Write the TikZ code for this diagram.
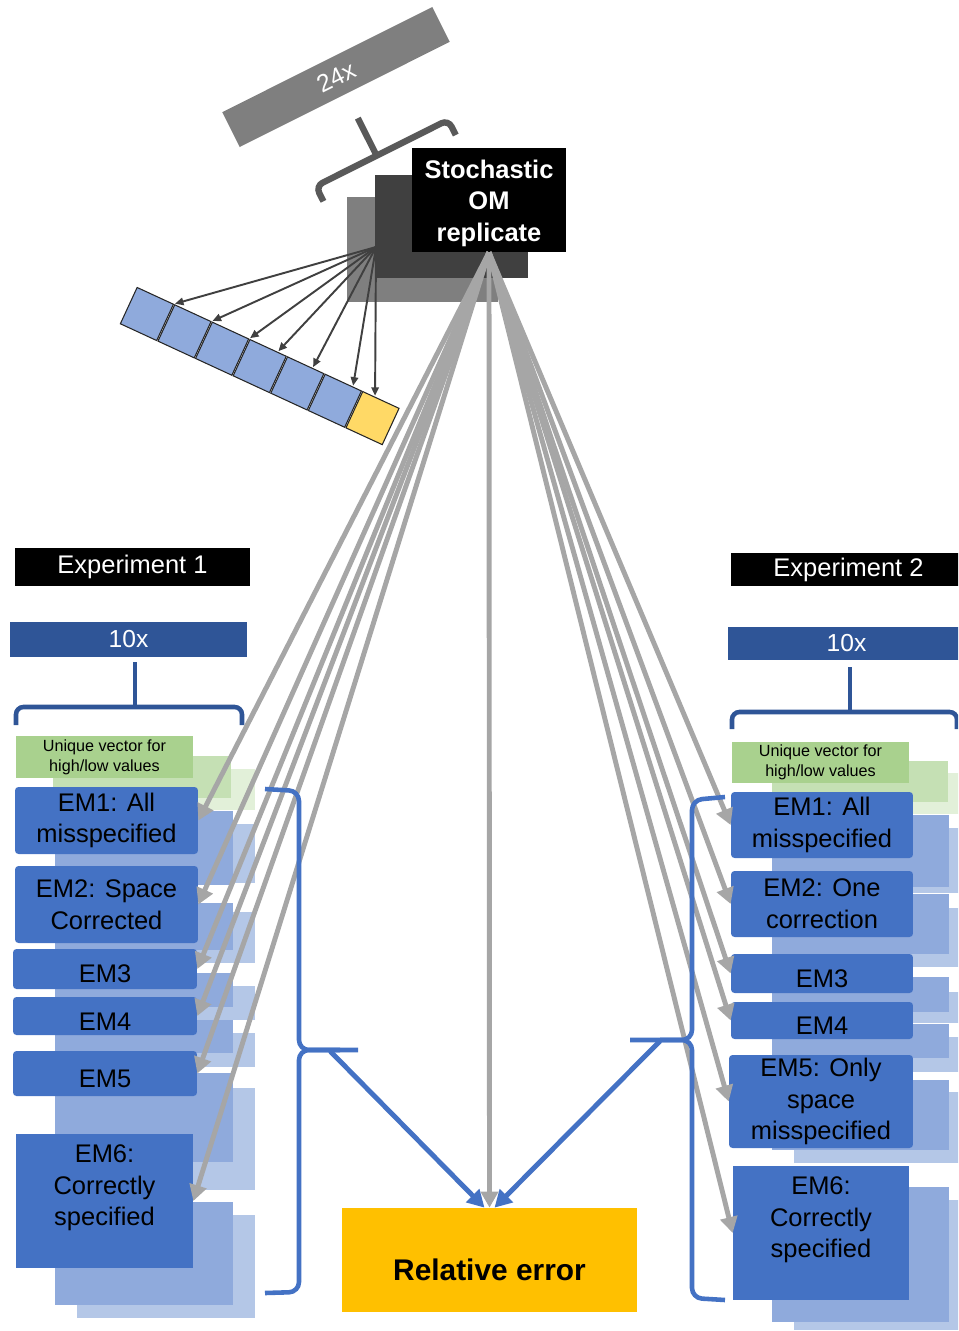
\documentclass[tikz,border=0pt]{standalone}
\usepackage{fontspec}
\setmainfont{Liberation Sans}
\usetikzlibrary{arrows.meta,positioning}
\definecolor{emblue}{HTML}{4472C4}
\definecolor{emmid}{HTML}{8FAADC}
\definecolor{emback}{HTML}{B4C7E7}
\definecolor{grfront}{HTML}{A9D18E}
\definecolor{grmid}{HTML}{C5E0B4}
\definecolor{grback}{HTML}{E2F0D9}
\definecolor{tenblue}{HTML}{2F5597}
\definecolor{fangray}{HTML}{A6A6A6}
\definecolor{errgold}{HTML}{FFC000}
\definecolor{sqyellow}{HTML}{FFD966}
\definecolor{ommid}{HTML}{7F7F7F}
\definecolor{omdark}{HTML}{404040}
\definecolor{bracegray}{HTML}{595959}
\tikzset{
  front/.style={rectangle,fill=emblue,rounded corners=0.7mm,inner sep=0pt,align=center,
    execute at begin node={\rule{0pt}{16pt}},font={\fontsize{14.5}{18}\selectfont}},
  sqfront/.style={front,rounded corners=0pt},
  emtext/.style={inner sep=0pt,align=center,font={\fontsize{14.5}{17.8}\selectfont}},
  vecbox/.style={rectangle,fill=grfront,inner sep=0pt,align=center,minimum width=35.4mm,font={\fontsize{9.2}{11.3}\selectfont}},
  labbox/.style={rectangle,fill=black,text=white,inner sep=0pt,minimum width=47mm,font={\fontsize{14.5}{17}\selectfont}},
  tenbox/.style={rectangle,fill=tenblue,text=white,inner sep=0pt,minimum width=47.4mm,font={\fontsize{14}{17}\selectfont}},
  sq/.style={rectangle,draw=black!85,line width=0.6pt,minimum size=8mm,inner sep=0pt,rotate=-24.8},
  fan/.style={-{Triangle[length=3.2mm,width=3.4mm]},line width=2.8pt,fangray},
  arr/.style={-{Triangle[length=1.7mm,width=1.5mm]},line width=1.1pt,omdark,shorten >=0.5pt},
  bluearr/.style={-{Triangle[length=3.4mm,width=3.6mm]},line width=2.8pt,emblue},
  bbrace/.style={line width=2.6pt,emblue,rounded corners=2mm},
  tenbrace/.style={line width=2.6pt,tenblue,rounded corners=1.5mm}
}
\begin{document}
\begin{tikzpicture}[x=0.02cm,y=-0.02cm]
\clip (0,0) rectangle (958,1331);
% replicates
\node[rectangle,fill=ommid,text=white,rotate=26.6,minimum width=47mm,minimum height=7.8mm,
  font={\fontsize{14}{17}\selectfont}] (rep) at (336,77) {24x};
\begin{scope}[shift={(382,153)},rotate=26.6]
  \draw[line width=3.6pt,bracegray,rounded corners=1.5mm] (-74,17) -- (-74,0) -- (74,0) -- (74,17);
  \draw[line width=3.6pt,bracegray] (-6,0) -- (-6,-42);
\end{scope}
\fill[ommid] (347,197) rectangle (498,302);
\fill[omdark] (375,175) rectangle (528,278);
\node[rectangle,fill=black,text=white,inner sep=0pt,align=center,minimum width=30.8mm,minimum height=20.8mm,
  font={\bfseries\fontsize{14.5}{18}\selectfont}] (omr) at (489,200) {\rule{0pt}{14.2pt}Stochastic\\OM\\replicate};
% vector
\foreach \i/\c in {0/emmid,1/emmid,2/emmid,3/emmid,4/emmid,5/emmid,6/sqyellow}
  \node[sq,fill=\c] (s\i) at ({146.9+37.6*\i},{314+17.35*\i}) {};
\coordinate (src) at (376,247);
\foreach \i/\a in {0/45,1/45,2/45,3/63,4/70,5/63,6/108}
  \draw[arr] (src) -- (s\i.\a);
% stacks, experiment 1
\fill[grback] (77,769) rectangle (255,810);
\foreach \a/\b in {824/883,912/963,986/1020,1033/1067,1088/1190,1215/1318}
  \fill[emback] (77,\a) rectangle (255,\b);
\fill[grmid] (53,756) rectangle (231,798);
\foreach \a/\b in {811/885,903/950,973/1007,1020/1053,1073/1162,1202/1305}
  \fill[emmid] (55,\a) rectangle (233,\b);
% stacks, experiment 2
\fill[grback] (794,773) rectangle (966,814);
\foreach \a/\b in {828/893,908/967,992/1023,1037/1072,1092/1163,1200/1330}
  \fill[emback] (794,\a) rectangle (966,\b);
\fill[grmid] (772,761) rectangle (948,802);
\foreach \a/\b in {815/887,894/954,977/1012,1024/1058,1080/1150,1187/1322}
  \fill[emmid] (772,\a) rectangle (949,\b);
% experiment 1
\node[labbox,minimum height=7.6mm] (exp1) at (132.5,567) {Experiment 1};
\node[tenbox,minimum height=7mm] (ten1) at (128.5,639.5) {10x};
\draw[tenbrace] (16,725) -- (16,707) -- (242,707) -- (242,725);
\draw[tenbrace] (135,662) -- (135,707);
\node[vecbox,minimum height=8.4mm] (lvec) at (104.5,757) {Unique vector for\\high/low values};
\node[front,minimum width=36.6mm,minimum height=13.4mm] (l1) at (106.5,820.5) {EM1: All\\misspecified};
\node[front,minimum width=36.6mm,minimum height=15.4mm] (l2) at (106.5,904.5) {EM2: Space\\Corrected};
\node[front,minimum width=36.8mm,minimum height=8mm] (l3) at (105,969) {EM3};
\node[front,minimum width=36.8mm,minimum height=7.6mm] (l4) at (105,1016) {EM4};
\node[front,minimum width=36.8mm,minimum height=9mm] (l5) at (105,1073.5) {EM5};
\node[sqfront,minimum width=35.4mm,minimum height=26.8mm] (l6) at (104.5,1201) {};
\node[emtext,below=2.2mm of l6.north] (l6t) {EM6:\\Correctly\\specified};
% experiment 2
\node[labbox,minimum height=6.6mm] (exp2) at (848.5,569.5) {Experiment 2};
\node[tenbox,minimum height=6.6mm] (ten2) at (846.5,643.5) {10x};
\draw[tenbrace] (732,729) -- (732,712) -- (957,712) -- (957,729);
\draw[tenbrace] (850,667) -- (850,712);
\node[vecbox,minimum height=8.2mm] (rvec) at (820.5,762) {Unique vector for\\high/low values};
\node[front,minimum width=36.4mm,minimum height=13.2mm] (r1) at (822,825) {EM1: All\\misspecified};
\node[front,minimum width=36.4mm,minimum height=13.2mm] (r2) at (822,904) {EM2: One\\correction};
\node[front,minimum width=36.4mm,minimum height=7.8mm] (r3) at (822,973.5) {EM3};
\node[front,minimum width=36.4mm,minimum height=7.4mm] (r4) at (822,1020.5) {EM4};
\node[front,minimum width=36.8mm,minimum height=18.6mm] (r5) at (821,1101.5) {EM5: Only\\space\\misspecified};
\node[sqfront,minimum width=35.2mm,minimum height=26.8mm] (r6) at (821,1233) {};
\node[emtext,below=2.2mm of r6.north] (r6t) {EM6:\\Correctly\\specified};
% result
\node[rectangle,fill=errgold,inner sep=0pt,minimum width=59mm,minimum height=20.8mm,text height=23pt,text depth=0pt,
  font={\bfseries\fontsize{17}{20}\selectfont}] (relerr) at (489.5,1260) {Relative error};
\foreach \i in {1,...,6}
  \draw[fan] (omr.south) -- (l\i.east);
\foreach \i in {1,...,6}
  \draw[fan] (omr.south) -- (r\i.west);
\draw[fan] (omr.south) -- (relerr.north);
% braces into relative error
\draw[bbrace] (340,1050) -- (299,1050) -- (299,791) -- (265,789);
\draw[bbrace] (358,1050) -- (299,1050) -- (299,1292) -- (265,1293);
\coordinate (brl) at (330,1051);
\draw[bluearr] (brl) -- ([xshift=-1mm]relerr.north);
\draw[bbrace] (660,1040) -- (692,1040) -- (692,800) -- (725,797);
\draw[bbrace] (630,1040) -- (692,1040) -- (692,1298) -- (725,1300);
\coordinate (brr) at (660,1041);
\draw[bluearr] (brr) -- ([xshift=1mm]relerr.north);
\end{tikzpicture}
\end{document}
